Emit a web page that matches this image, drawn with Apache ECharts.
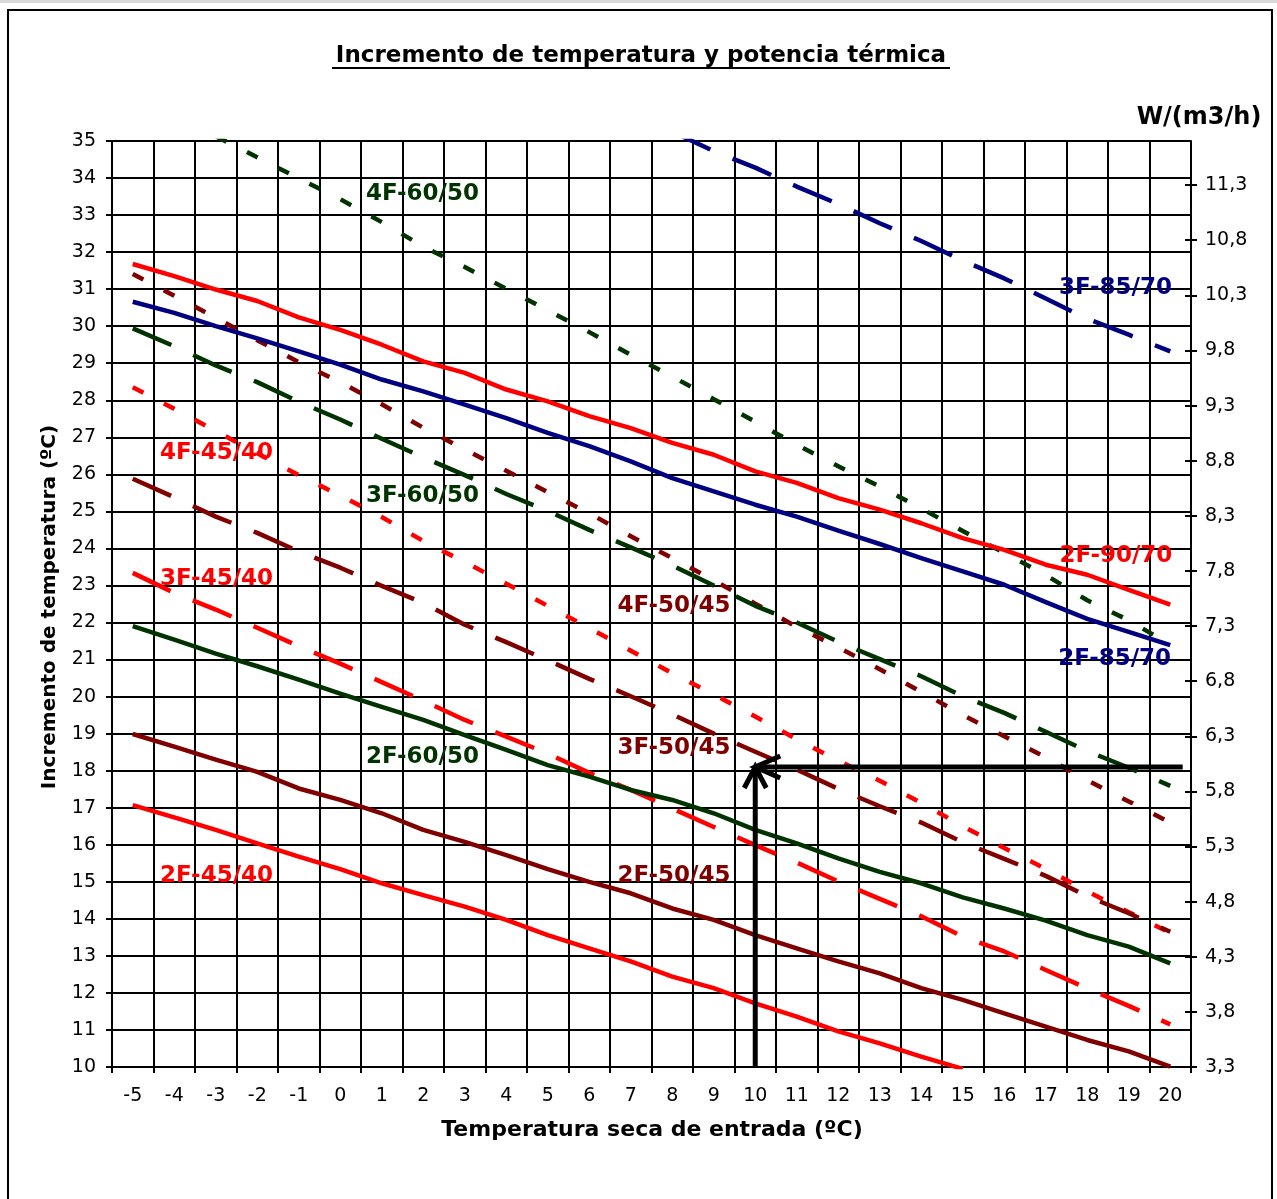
<!DOCTYPE html>
<html>
<head>
<meta charset="utf-8">
<script src="https://cdn.jsdelivr.net/npm/echarts@6/dist/echarts.min.js"></script>
<style>
  html, body { margin: 0; padding: 0; background: #fff; }
  #chart { width: 1277px; height: 1199px; }
</style>
</head>
<body>
<div id="chart"></div>
<script>
// Dry inlet temperature (ºC)
const categories = ['-5','-4','-3','-2','-1','0','1','2','3','4','5','6','7','8','9','10','11','12','13','14','15','16','17','18','19','20'];

// Secondary scale, W/(m3/h)
const powerTicks = [3.3, 3.8, 4.3, 4.8, 5.3, 5.8, 6.3, 6.8, 7.3, 7.8, 8.3, 8.8, 9.3, 9.8, 10.3, 10.8, 11.3];
const powerMin = 3.3;
const powerMax = 11.7;

// Temperature rise (ºC) per coil / water regime
const s2F_45_40 = [17.07,16.74,16.40,16.04,15.68,15.34,14.96,14.64,14.33,13.97,13.56,13.20,12.85,12.44,12.13,11.72,11.36,10.96,10.64,10.28,9.95,null,null,null,null,null];
const s3F_45_40 = [23.34,22.80,22.35,21.86,21.36,20.89,20.39,19.89,19.37,18.92,18.46,17.94,17.48,16.98,16.48,15.99,15.52,15.01,14.54,14.07,13.52,13.12,12.62,12.12,11.65,11.15];
const s4F_45_40 = [28.35,27.77,27.17,26.57,25.98,25.43,24.85,24.20,23.63,23.05,22.45,21.85,21.24,20.63,20.06,19.46,18.85,18.27,17.73,17.13,16.50,15.91,15.35,14.74,14.18,13.62];
const s2F_50_45 = [18.99,18.65,18.30,17.97,17.52,17.21,16.85,16.40,16.08,15.72,15.34,15.00,14.69,14.28,13.97,13.56,13.20,12.85,12.53,12.13,11.81,11.45,11.09,10.73,10.42,10.01];
const s3F_50_45 = [25.88,25.38,24.86,24.42,23.92,23.48,22.99,22.53,21.94,21.47,20.98,20.48,20.01,19.52,19.00,18.51,18.03,17.51,17.04,16.60,16.07,15.62,15.16,14.61,14.15,13.65];
const s4F_50_45 = [31.41,30.82,30.23,29.62,29.03,28.49,27.89,27.26,26.67,26.10,25.52,24.95,24.33,23.74,23.14,22.51,21.88,21.33,20.74,20.13,19.50,18.93,18.36,17.74,17.17,16.60];
const s2F_60_50 = [21.90,21.54,21.16,20.82,20.46,20.08,19.72,19.37,18.96,18.56,18.15,17.84,17.48,17.21,16.85,16.40,16.04,15.63,15.27,14.96,14.58,14.28,13.95,13.56,13.25,12.80];
const s3F_60_50 = [29.94,29.46,28.94,28.49,27.96,27.48,26.96,26.46,25.98,25.47,25.01,24.50,24.03,23.54,23.00,22.45,22.00,21.48,21.01,20.55,20.01,19.56,19.05,18.53,18.08,17.59];
const s4F_60_50 = [null,null,35.13,34.56,33.99,33.43,32.81,32.15,31.60,31.01,30.43,29.84,29.23,28.64,28.03,27.42,26.80,26.22,25.67,25.08,24.47,23.88,23.28,22.60,22.06,21.40];
const s2F_85_70 = [30.66,30.36,30.00,29.67,29.32,28.96,28.56,28.24,27.88,27.52,27.12,26.76,26.35,25.90,25.54,25.18,24.86,24.48,24.12,23.74,23.38,23.02,22.55,22.10,21.75,21.39];
const s3F_85_70 = [null,null,null,null,null,null,null,null,null,null,null,null,null,35.25,34.73,34.28,33.77,33.30,32.78,32.30,31.77,31.29,30.75,30.20,29.77,29.32];
const s2F_90_70 = [31.68,31.35,30.99,30.68,30.24,29.90,29.50,29.05,28.74,28.29,27.97,27.57,27.25,26.85,26.53,26.08,25.77,25.36,25.05,24.68,24.28,23.96,23.56,23.29,22.88,22.48];

// Worked example: 10 ºC inlet, read across to the right scale
const examplePath = [[10, 10], [10, 18.1], [20.3, 18.1]];

const RED = '#ff0000', DARKRED = '#800000', GREEN = '#003300', NAVY = '#000080';
const FONT = 'DejaVu Sans';
const DASH_LONG = [42, 24];
const DASH_SHORT = [12, 23];

const curves = [
  { name: '2F-45/40', data: s2F_45_40, color: RED, dash: 'solid' },
  { name: '3F-45/40', data: s3F_45_40, color: RED, dash: DASH_LONG },
  { name: '4F-45/40', data: s4F_45_40, color: RED, dash: DASH_SHORT },
  { name: '2F-50/45', data: s2F_50_45, color: DARKRED, dash: 'solid' },
  { name: '3F-50/45', data: s3F_50_45, color: DARKRED, dash: DASH_LONG },
  { name: '4F-50/45', data: s4F_50_45, color: DARKRED, dash: DASH_SHORT },
  { name: '2F-60/50', data: s2F_60_50, color: GREEN, dash: 'solid' },
  { name: '3F-60/50', data: s3F_60_50, color: GREEN, dash: DASH_LONG },
  { name: '4F-60/50', data: s4F_60_50, color: GREEN, dash: DASH_SHORT },
  { name: '2F-85/70', data: s2F_85_70, color: NAVY, dash: 'solid' },
  { name: '3F-85/70', data: s3F_85_70, color: NAVY, dash: DASH_LONG },
  { name: '2F-90/70', data: s2F_90_70, color: RED, dash: 'solid' }
];

// Curve name tags, placed in data units (x: inlet ºC, y: rise ºC)
const curveTags = [
  { text: '4F-60/50', x: 1.98, y: 33.57, color: GREEN },
  { text: '3F-85/70', x: 18.68, y: 31.02, color: NAVY },
  { text: '4F-45/40', x: -2.98, y: 26.58, color: RED },
  { text: '3F-60/50', x: 1.98, y: 25.42, color: GREEN },
  { text: '2F-90/70', x: 18.69, y: 23.80, color: RED },
  { text: '3F-45/40', x: -2.98, y: 23.17, color: RED },
  { text: '4F-50/45', x: 8.04, y: 22.44, color: DARKRED },
  { text: '2F-85/70', x: 18.66, y: 21.01, color: NAVY },
  { text: '3F-50/45', x: 8.04, y: 18.61, color: DARKRED },
  { text: '2F-60/50', x: 1.98, y: 18.37, color: GREEN },
  { text: '2F-45/40', x: -2.98, y: 15.16, color: RED },
  { text: '2F-50/45', x: 8.04, y: 15.16, color: DARKRED }
];

const chart = echarts.init(document.getElementById('chart'), null, { renderer: 'canvas' });

const fmtPower = v => v.toFixed(1).replace('.', ',');

const option = {
  backgroundColor: '#ffffff',
  animation: false,
  textStyle: { fontFamily: FONT },
  grid: { left: 112, top: 141, right: 86, bottom: 132, containLabel: false },
  xAxis: [
    {
      type: 'category',
      data: categories,
      boundaryGap: true,
      position: 'bottom',
      axisLine: { onZero: false, lineStyle: { color: '#000', width: 2 } },
      axisTick: { show: true, length: 6, lineStyle: { color: '#000', width: 2 } },
      axisLabel: { interval: 0, color: '#000', fontSize: 19, fontFamily: FONT, margin: 20 },
      splitLine: { show: true, lineStyle: { color: '#000', width: 2 } }
    },
    {
      type: 'value',
      min: -5.5, max: 20.5,
      position: 'bottom',
      show: false,
      axisLine: { onZero: false }
    }
  ],
  yAxis: [
    {
      type: 'value',
      position: 'left',
      min: 10, max: 35, interval: 1,
      axisLine: { show: true, onZero: false, lineStyle: { color: '#000', width: 2 } },
      axisTick: { show: true, length: 6, lineStyle: { color: '#000', width: 2 } },
      axisLabel: { color: '#000', fontSize: 19, fontFamily: FONT, margin: 16 },
      splitLine: { show: true, lineStyle: { color: '#000', width: 2 } }
    },
    {
      type: 'value',
      position: 'right',
      min: powerMin, max: powerMax,
      axisLine: { show: true, onZero: false, lineStyle: { color: '#000', width: 2 } },
      axisTick: { show: true, length: 6, customValues: powerTicks, lineStyle: { color: '#000', width: 2 } },
      axisLabel: { color: '#000', fontSize: 19, fontFamily: FONT, margin: 14, customValues: powerTicks, formatter: fmtPower },
      splitLine: { show: false }
    },
    {
      type: 'value',
      position: 'right',
      min: powerMin, max: powerMax,
      axisLine: { show: false, onZero: false },
      axisTick: { show: true, inside: true, length: 6, customValues: powerTicks, lineStyle: { color: '#000', width: 2 } },
      axisLabel: { show: false },
      splitLine: { show: false }
    }
  ],
  series: curves.map(c => ({
    name: c.name,
    type: 'line',
    data: c.data,
    xAxisIndex: 0,
    yAxisIndex: 0,
    symbol: 'none',
    smooth: false,
    connectNulls: false,
    clip: true,
    lineStyle: { color: c.color, width: 4.5, type: c.dash, cap: 'butt', join: 'round' },
    emphasis: { disabled: true },
    z: 3
  })).concat([{
    type: 'custom',
    name: 'example',
    xAxisIndex: 1,
    yAxisIndex: 0,
    data: examplePath,
    encode: { x: 0, y: 1 },
    clip: false,
    z: 5,
    renderItem: function (params, api) {
      if (params.dataIndex !== 0) return null;
      const p = examplePath.map(pt => api.coord(pt));
      const tip = p[1];
      const st = { stroke: '#000', lineWidth: 5, fill: null, lineJoin: 'miter', lineCap: 'butt' };
      return {
        type: 'group',
        children: [
          { type: 'polyline', shape: { points: [p[0], tip] }, style: st },
          { type: 'polyline', shape: { points: [p[2], tip] }, style: st },
          { type: 'polyline', shape: { points: [[tip[0] - 11, tip[1] + 21], tip, [tip[0] + 11, tip[1] + 21]] }, style: st },
          { type: 'polyline', shape: { points: [[tip[0] + 25, tip[1] - 11], tip, [tip[0] + 25, tip[1] + 11]] }, style: st }
        ]
      };
    }
  }])
};

chart.setOption(option);

const frame = [
  { type: 'rect', shape: { x: 0, y: 0, width: 1277, height: 3 }, style: { fill: '#d9d9d9' }, silent: true },
  { type: 'rect', shape: { x: 8, y: 10, width: 1264, height: 1260 }, style: { fill: null, stroke: '#000', lineWidth: 2 }, silent: true, z: 10 },
  { type: 'text', x: 641, y: 56, style: { text: 'Incremento de temperatura y potencia térmica', font: 'bold 23px "DejaVu Sans"', fill: '#000', textAlign: 'center', textVerticalAlign: 'middle' } },
  { type: 'line', shape: { x1: 332, y1: 68, x2: 950, y2: 68 }, style: { stroke: '#000', lineWidth: 2 } },
  { type: 'text', x: 652, y: 1130, style: { text: 'Temperatura seca de entrada (ºC)', font: 'bold 22px "DejaVu Sans"', fill: '#000', textAlign: 'center', textVerticalAlign: 'middle' } },
  { type: 'text', x: 50, y: 607, rotation: Math.PI / 2, style: { text: 'Incremento de temperatura (ºC)', font: 'bold 20px "DejaVu Sans"', fill: '#000', textAlign: 'center', textVerticalAlign: 'middle' } },
  { type: 'text', x: 1199, y: 118, style: { text: 'W/(m3/h)', font: 'bold 24px "DejaVu Sans"', fill: '#000', textAlign: 'center', textVerticalAlign: 'middle' } }
];

const tags = curveTags.map(t => {
  const p = chart.convertToPixel({ xAxisIndex: 1, yAxisIndex: 0 }, [t.x, t.y]);
  return {
    type: 'text', x: p[0], y: p[1], z: 20,
    style: { text: t.text, font: 'bold 23px "DejaVu Sans"', fill: t.color, textAlign: 'center', textVerticalAlign: 'middle' }
  };
});

chart.setOption({ graphic: { elements: frame.concat(tags) } });
</script>
</body>
</html>
